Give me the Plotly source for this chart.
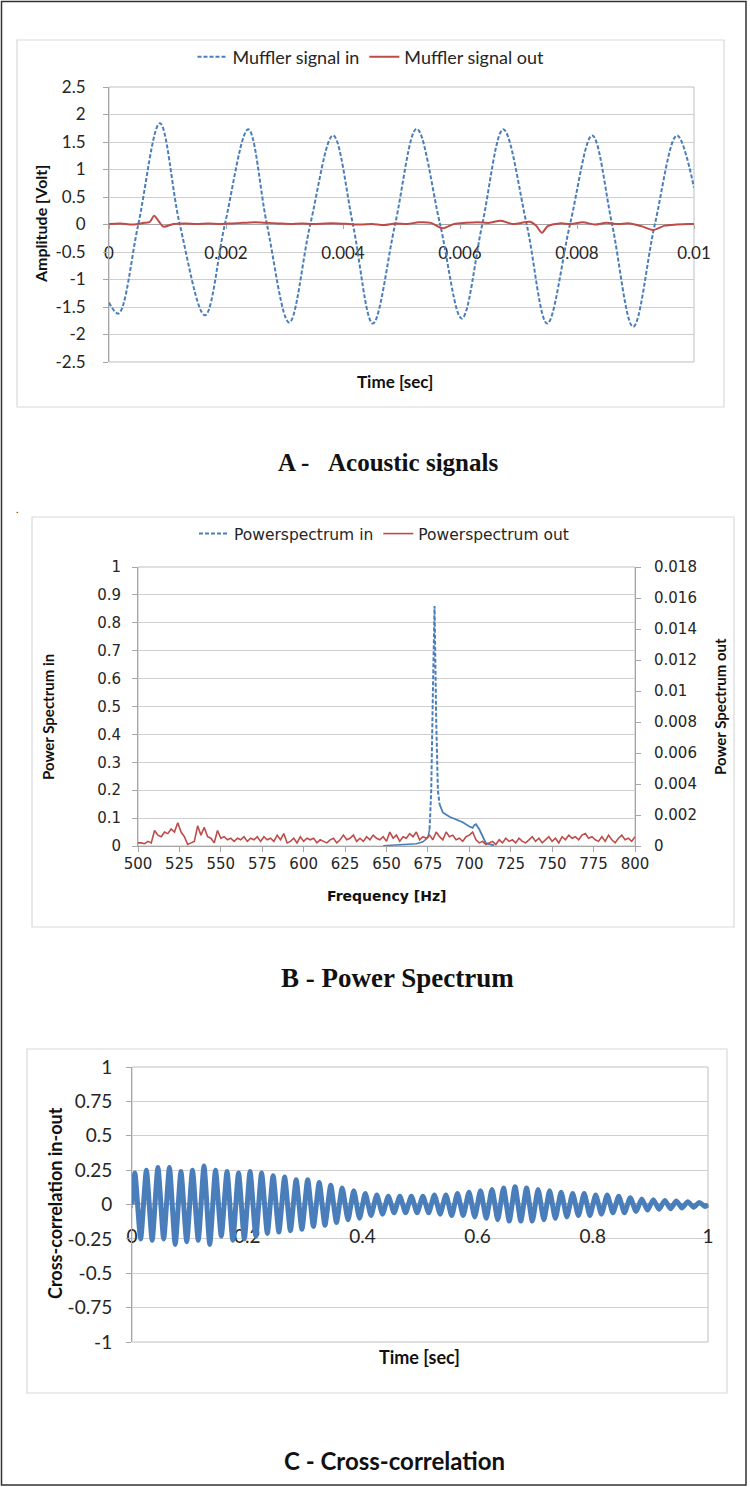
import plotly.graph_objects as go

W, H = 750, 1487

# ---------------- Panel A: acoustic signals ----------------
sig_in_t = [0.0, 0.00016, 0.0005, 0.00087, 0.00121, 0.00164, 0.00198, 0.00238, 0.0027,
            0.00308, 0.00344, 0.00383, 0.00417, 0.00451, 0.00489, 0.00526, 0.00566,
            0.00603, 0.00638, 0.00674, 0.00714, 0.00749, 0.00788, 0.00826, 0.0086,
            0.00896, 0.00933, 0.00971, 0.01]
sig_in_v = [-1.42, -1.62, 0.0, 1.84, 0.0, -1.65, 0.0, 1.73, 0.0,
            -1.78, 0.0, 1.62, 0.0, -1.80, 0.0, 1.74, 0.0,
            -1.71, 0.0, 1.73, 0.0, -1.80, 0.0, 1.62, 0.0,
            -1.86, 0.0, 1.62, 0.67]

sig_out_t = [0.0, 0.0002, 0.0004, 0.0006, 0.0007, 0.00077, 0.00085, 0.00093, 0.0011, 0.0013,
             0.0015, 0.0017, 0.0019, 0.0021, 0.0023, 0.0025, 0.0027, 0.0029, 0.0031, 0.0033,
             0.0035, 0.0037, 0.0039, 0.0041, 0.0043, 0.0045, 0.0047, 0.0049, 0.0051, 0.0053,
             0.0055, 0.0057, 0.0059, 0.0061, 0.0063, 0.0065, 0.0067, 0.0069, 0.0071, 0.0072,
             0.0073, 0.0074, 0.0075, 0.0077, 0.0079, 0.0081, 0.0083, 0.0085, 0.0087, 0.0089,
             0.0091, 0.0093, 0.0095, 0.0097, 0.0099, 0.01]
sig_out_v = [0.01, 0.02, 0.0, 0.03, 0.05, 0.16, 0.06, -0.04, 0.01, 0.02,
             0.01, 0.02, 0.01, 0.02, 0.03, 0.04, 0.03, 0.02, 0.01, 0.02,
             0.01, 0.02, 0.02, 0.01, 0.0, 0.01, -0.01, 0.02, 0.01, 0.04,
             0.03, -0.07, 0.01, 0.03, 0.04, 0.03, 0.07, 0.01, 0.04, 0.05,
             -0.02, -0.15, -0.03, 0.02, 0.01, 0.04, 0.0, 0.03, 0.01, 0.02,
             -0.03, -0.1, -0.02, 0.0, 0.01, 0.01]

a_x_ticks = [0, 0.002, 0.004, 0.006, 0.008, 0.01]
a_x_labels = ["0", "0.002", "0.004", "0.006", "0.008", "0.01"]
a_y_ticks = [2.5, 2, 1.5, 1, 0.5, 0, -0.5, -1, -1.5, -2, -2.5]
a_y_labels = ["2.5", "2", "1.5", "1", "0.5", "0", "-0.5", "-1", "-1.5", "-2", "-2.5"]

# ---------------- Panel B: power spectrum ----------------
ps_in_low_f = [648, 656, 662, 668, 672, 675, 676]
ps_in_low_v = [0.001, 0.003, 0.005, 0.008, 0.015, 0.03, 0.06]
ps_in_f = [676, 677, 678, 679, 680, 681, 682]
ps_in_v = [0.06, 0.2, 0.55, 0.86, 0.45, 0.2, 0.15]
ps_in_tail_f = [682, 684, 688, 692, 696, 700, 702, 703, 704, 706, 708, 710, 715]
ps_in_tail_v = [0.15, 0.12, 0.105, 0.095, 0.085, 0.07, 0.065, 0.075, 0.078, 0.06, 0.035,
                0.01, 0.002]

ps_out_f = list(range(500, 801, 2))
ps_out_v = [0.0002, 0.0002, 0.00015, 0.0003, 0.0002, 0.0010, 0.0007, 0.0006, 0.0009, 0.0008,
            0.0011, 0.0009, 0.0015, 0.0009, 0.0006, 0.0001, 0.0002, 0.0003, 0.0013, 0.0007,
            0.0012, 0.0006, 0.0005, 0.0002, 0.0010, 0.0005, 0.0006, 0.0004, 0.0005, 0.0003,
            0.0005, 0.0004, 0.0006, 0.0003, 0.0005, 0.0004, 0.0006, 0.0003, 0.0006, 0.0004,
            0.0005, 0.0003, 0.0007, 0.0004, 0.0008, 0.0002, 0.0003, 0.0005, 0.0002, 0.0006,
            0.0003, 0.0005, 0.0004, 0.0005, 0.0002, 0.0004, 0.0003, 0.0002, 0.0004, 0.0005,
            0.0002, 0.0004, 0.0007, 0.0004, 0.0005, 0.0007, 0.0003, 0.0005, 0.0003, 0.0006,
            0.0004, 0.0007, 0.0005, 0.0004, 0.0006, 0.0003, 0.0009, 0.0005, 0.0007, 0.0003,
            0.0006, 0.0005, 0.0008, 0.0006, 0.0009, 0.0004, 0.0006, 0.0005, 0.0007, 0.0004,
            0.0009, 0.0006, 0.0004, 0.0009, 0.0006, 0.0007, 0.0004, 0.0005, 0.0003, 0.0006,
            0.0007, 0.0009, 0.0004, 0.0002, 0.0003, 0.0001, 0.0002, 0.0003, 0.0001, 0.0004,
            0.0002, 0.0005, 0.0003, 0.0004, 0.0002, 0.0005, 0.0003, 0.0002, 0.0004, 0.0006,
            0.0003, 0.0005, 0.0002, 0.0004, 0.0006, 0.0003, 0.0005, 0.0002, 0.0006, 0.0004,
            0.0007, 0.0005, 0.0006, 0.0004, 0.0007, 0.0008, 0.0005, 0.0006, 0.0004, 0.0003,
            0.0006, 0.0003, 0.0007, 0.0004, 0.0002, 0.0005, 0.0007, 0.0004, 0.0005, 0.0003,
            0.0006]

# ---------------- Panel C: cross-correlation ----------------
cc_peak_t = [round(0.005 + 0.02 * k, 4) for k in range(50)]
cc_trough_t = [round(0.015 + 0.02 * k, 4) for k in range(50)]
cc_peaks = [0.23, 0.25, 0.27, 0.27, 0.24, 0.25, 0.28, 0.25, 0.24, 0.23,
            0.24, 0.23, 0.21, 0.20, 0.18, 0.18, 0.16, 0.14, 0.12, 0.10,
            0.08, 0.07, 0.06, 0.06, 0.06, 0.06, 0.07, 0.07, 0.08, 0.09,
            0.10, 0.11, 0.12, 0.13, 0.12, 0.11, 0.10, 0.09, 0.08, 0.08,
            0.07, 0.07, 0.06, 0.05, 0.04, 0.035, 0.03, 0.025, 0.02, 0.015]
cc_troughs = [-0.25, -0.26, -0.25, -0.29, -0.27, -0.26, -0.29, -0.23, -0.26, -0.25,
              -0.23, -0.21, -0.20, -0.19, -0.18, -0.16, -0.15, -0.13, -0.11, -0.10,
              -0.08, -0.07, -0.06, -0.06, -0.06, -0.06, -0.07, -0.08, -0.08, -0.09,
              -0.10, -0.11, -0.12, -0.12, -0.12, -0.11, -0.10, -0.09, -0.08, -0.08,
              -0.07, -0.06, -0.06, -0.05, -0.04, -0.035, -0.03, -0.025, -0.02, -0.015]

c_x_ticks = [0, 0.2, 0.4, 0.6, 0.8, 1]
c_x_labels = ["0", "0.2", "0.4", "0.6", "0.8", "1"]
c_y_ticks = [1, 0.75, 0.5, 0.25, 0, -0.25, -0.5, -0.75, -1]
c_y_labels = ["1", "0.75", "0.5", "0.25", "0", "-0.25", "-0.5", "-0.75", "-1"]

cc_t = [0.0]
cc_v = [0.0]
for pt, pv, tt, tv in zip(cc_peak_t, cc_peaks, cc_trough_t, cc_troughs):
    cc_t += [pt, tt]
    cc_v += [pv, tv]
cc_t.append(1.0)
cc_v.append(0.0)

# ---------------- styling ----------------
BLUE = "#4A7EBB"
RED = "#BE4B48"
GRID = "#CFCFCF"
AXL = "#A6A6A6"
TXT = "#262626"
FONT = "Lato, Carlito, Calibri, sans-serif"
WIDE = "DejaVu Sans, Verdana, sans-serif"
SERIF = "Liberation Serif, Times New Roman, serif"


def px(x):
    return x / W


def py(y):
    return 1 - y / H


fig = go.Figure()

fig.add_trace(go.Scatter(x=sig_in_t, y=sig_in_v, mode="lines", name="Muffler signal in",
                         line=dict(color=BLUE, width=2, dash="4px,2px", shape="spline", smoothing=1.0),
                         xaxis="x", yaxis="y", legend="legend"))
fig.add_trace(go.Scatter(x=sig_out_t, y=sig_out_v, mode="lines", name="Muffler signal out",
                         line=dict(color=RED, width=2, shape="spline", smoothing=0.8),
                         xaxis="x", yaxis="y", legend="legend"))

fig.add_trace(go.Scatter(x=ps_in_low_f, y=ps_in_low_v, mode="lines", showlegend=False,
                         line=dict(color=BLUE, width=1.5),
                         xaxis="x2", yaxis="y2"))
fig.add_trace(go.Scatter(x=ps_in_f, y=ps_in_v, mode="lines", name="Powerspectrum in",
                         line=dict(color=BLUE, width=2, dash="4px,2px"),
                         xaxis="x2", yaxis="y2", legend="legend2"))
fig.add_trace(go.Scatter(x=ps_in_tail_f, y=ps_in_tail_v, mode="lines", showlegend=False,
                         line=dict(color=BLUE, width=1.8),
                         xaxis="x2", yaxis="y2"))
fig.add_trace(go.Scatter(x=ps_out_f, y=ps_out_v, mode="lines", name="Powerspectrum out",
                         line=dict(color=RED, width=1.6),
                         xaxis="x2", yaxis="y3", legend="legend2"))

fig.add_trace(go.Scatter(x=cc_t, y=cc_v, mode="lines", showlegend=False,
                         line=dict(color=BLUE, width=5, shape="spline", smoothing=0.6),
                         xaxis="x3", yaxis="y4"))


def tf(size, family=FONT):
    return dict(family=family, size=size, color=TXT)


def yax(size, standoff, family=FONT):
    return dict(showgrid=True, gridcolor=GRID, gridwidth=1, zeroline=False, showline=True,
                linecolor=AXL, ticks="outside", ticklen=5, tickcolor=AXL, automargin=False,
                tickfont=tf(size, family), ticklabelstandoff=standoff)


fig.update_layout(
    width=W, height=H,
    margin=dict(l=0, r=0, t=0, b=0, pad=0, autoexpand=False),
    paper_bgcolor="white", plot_bgcolor="white",
    font=dict(family=FONT, size=14, color=TXT),
    # Panel A
    xaxis=dict(domain=[px(109), px(694)], range=[0, 0.01], anchor="free", position=py(224),
               tickvals=a_x_ticks, ticktext=a_x_labels, showgrid=False, zeroline=False,
               showline=True, linecolor=AXL, ticks="outside", ticklen=4, tickcolor=AXL,
               tickfont=tf(17), ticklabelstandoff=10, automargin=False, layer="below traces"),
    yaxis=dict(domain=[py(362), py(87)], range=[-2.5, 2.5], anchor="x",
               tickvals=a_y_ticks, ticktext=a_y_labels, **yax(17, 14)),
    # Panel B
    xaxis2=dict(domain=[px(138), px(635)], range=[500, 800], anchor="y2", dtick=25, tick0=500,
                showgrid=False, zeroline=False, showline=True, linecolor=AXL, ticks="outside",
                ticklen=5, tickcolor=AXL, tickfont=tf(15, WIDE), ticklabelstandoff=-1,
                automargin=False, layer="below traces"),
    yaxis2=dict(domain=[py(846), py(567)], range=[0, 1], dtick=0.1, anchor="x2",
                **yax(15, 8, WIDE)),
    yaxis3=dict(range=[0, 0.018], dtick=0.002, overlaying="y2", side="right", anchor="x2",
                showgrid=False, zeroline=False, showline=True, linecolor=AXL, ticks="outside",
                ticklen=5, tickcolor=AXL, tickfont=tf(15, WIDE), ticklabelstandoff=10,
                automargin=False),
    # Panel C
    xaxis3=dict(domain=[px(132), px(708)], range=[0, 1], anchor="free", position=py(1203),
                tickvals=c_x_ticks, ticktext=c_x_labels, showgrid=False, zeroline=False,
                showline=True, linecolor=AXL, ticks="outside", ticklen=4, tickcolor=AXL,
                tickfont=tf(19), ticklabelstandoff=12, automargin=False, layer="below traces"),
    yaxis4=dict(domain=[py(1342), py(1067)], range=[-1, 1], anchor="x3",
                tickvals=c_y_ticks, ticktext=c_y_labels, **yax(19, 10)),
    legend=dict(orientation="h", x=px(371), y=py(57), xanchor="center", yanchor="middle",
                font=tf(18), bgcolor="rgba(0,0,0,0)"),
    legend2=dict(orientation="h", x=px(384), y=py(534), xanchor="center", yanchor="middle",
                 font=tf(15.5, WIDE), bgcolor="rgba(0,0,0,0)"),
)

shapes = []
# outer frame
shapes.append(dict(type="rect", xref="paper", yref="paper", x0=px(1.5), x1=px(746),
                   y0=py(1485), y1=py(1.5), line=dict(color="#333333", width=1.5)))
# chart boxes
for (x0, y0, x1, y1) in [(17, 40, 724, 407), (32, 517, 734, 927), (27, 1049, 727, 1393)]:
    shapes.append(dict(type="rect", xref="paper", yref="paper", x0=px(x0), x1=px(x1),
                       y0=py(y1), y1=py(y0), line=dict(color="#D9D9D9", width=1.2),
                       layer="below"))
# plot area borders
for xr, yr in [("x", "y"), ("x2", "y2"), ("x3", "y4")]:
    shapes.append(dict(type="rect", xref=xr + " domain", yref=yr + " domain", x0=0, x1=1,
                       y0=0, y1=1, line=dict(color="#BFBFBF", width=1), layer="below"))
fig.update_layout(shapes=shapes)

ann = []


def add_text(text, x, y, size=14, bold=True, angle=0, family=FONT):
    ann.append(dict(text=("<b>%s</b>" % text) if bold else text, x=px(x), y=py(y),
                    xref="paper", yref="paper", showarrow=False, textangle=angle,
                    xanchor="center", yanchor="middle",
                    font=dict(family=family, size=size, color="#111111")))


add_text("Amplitude [Volt]", 40, 224, 16, angle=-90)
add_text("Time [sec]", 395, 382, 17)
add_text("Power Spectrum in", 48, 717, 15, angle=-90)
add_text("Power Spectrum out", 720, 707, 15, angle=-90)
add_text("Frequency [Hz]", 386, 896, 14, family=WIDE)
add_text("Cross-correlation in-out", 55, 1203, 18, angle=-90)
add_text("Time [sec]", 419, 1357, 18)
add_text("A -&nbsp;&nbsp;&nbsp;Acoustic signals", 388, 462, 25, family=SERIF)
add_text("B - Power Spectrum", 398, 978, 27, family=SERIF)
add_text("C - Cross-correlation", 394, 1460, 24)
add_text(".", 17, 509, 10, bold=False)
fig.update_layout(annotations=ann)

fig.write_html("out.html")
